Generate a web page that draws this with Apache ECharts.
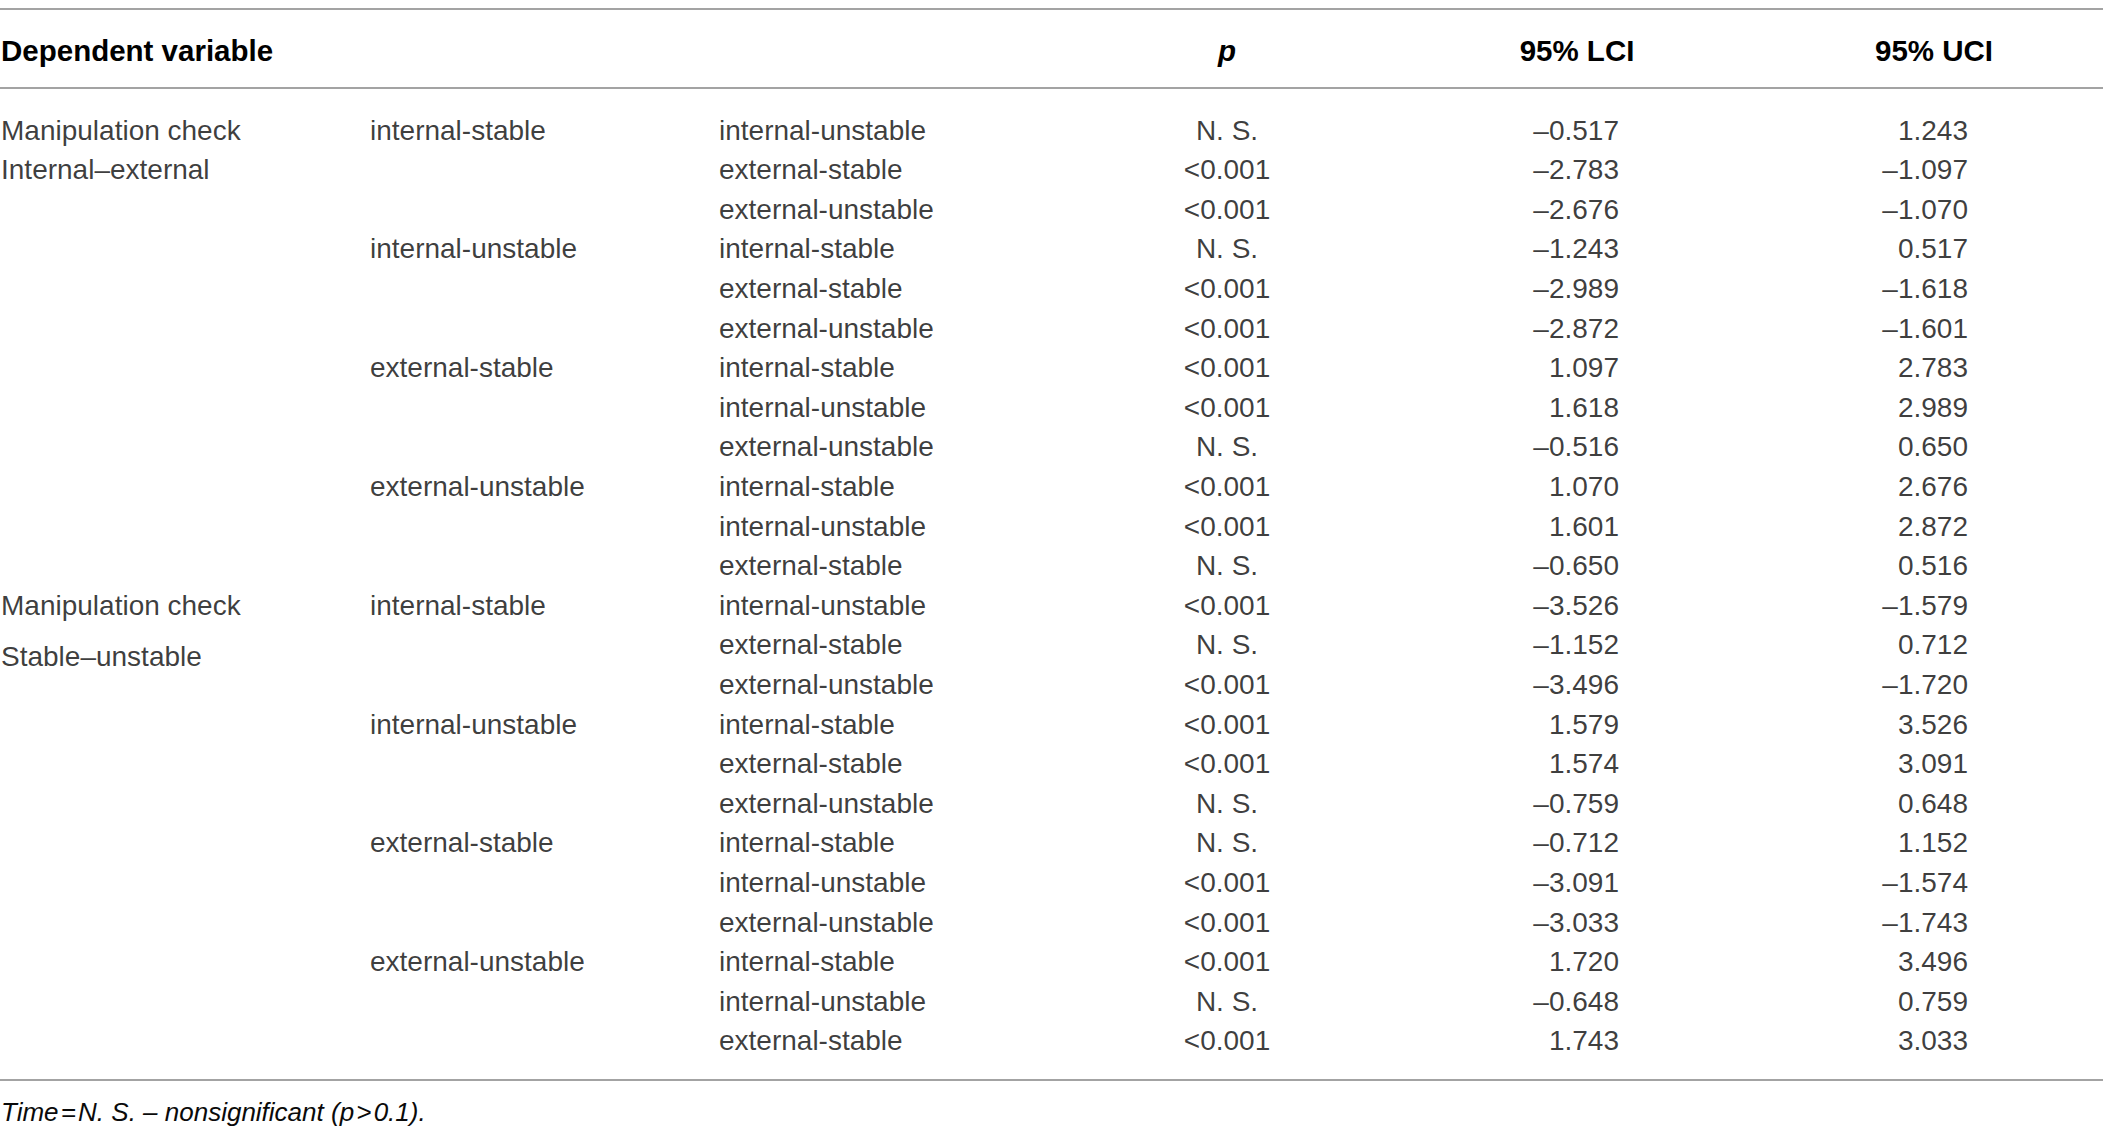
<!DOCTYPE html>
<html>
<head>
<meta charset="utf-8">
<title>Pairwise comparisons</title>
<script src="https://cdn.jsdelivr.net/npm/echarts@6/dist/echarts.min.js"></script>
<style>
html,body{margin:0;padding:0;background:#fff;}
#main{width:2103px;height:1136px;}
</style>
</head>
<body>
<div id="main"></div>
<script>
// table contents
var headers=['Dependent variable','p','95% LCI','95% UCI'];
var dependentVars=[['Manipulation check','Internal\u2013external'],['Manipulation check','Stable\u2013unstable']];
var groups=['internal-stable','internal-unstable','external-stable','external-unstable'];
var comparisons=[
	'internal-unstable','external-stable','external-unstable',
	'internal-stable','external-stable','external-unstable',
	'internal-stable','internal-unstable','external-unstable',
	'internal-stable','internal-unstable','external-stable',
	'internal-unstable','external-stable','external-unstable',
	'internal-stable','external-stable','external-unstable',
	'internal-stable','internal-unstable','external-unstable',
	'internal-stable','internal-unstable','external-stable'
];
var pValues=[
	'N. S.','<0.001','<0.001','N. S.','<0.001','<0.001',
	'<0.001','<0.001','N. S.','<0.001','<0.001','N. S.',
	'<0.001','N. S.','<0.001','<0.001','<0.001','N. S.',
	'N. S.','<0.001','<0.001','<0.001','N. S.','<0.001'
];
var lci=[
	-0.517,-2.783,-2.676,-1.243,-2.989,-2.872,
	1.097,1.618,-0.516,1.070,1.601,-0.650,
	-3.526,-1.152,-3.496,1.579,1.574,-0.759,
	-0.712,-3.091,-3.033,1.720,-0.648,1.743
];
var uci=[
	1.243,-1.097,-1.070,0.517,-1.618,-1.601,
	2.783,2.989,0.650,2.676,2.872,0.516,
	-1.579,0.712,-1.720,3.526,3.091,0.648,
	1.152,-1.574,-1.743,3.496,0.759,3.033
];
var footnote='Time\u200a=\u200aN. S. \u2013 nonsignificant (p\u200a>\u200a0.1).';

// layout
var W=2103;
var FONT='"Liberation Sans", Arial, sans-serif';
var colX=[1,370,719,1227,1619,1968];
var rowsPerDep=groups.length*3;

function fmt(v){
	return v.toFixed(3).replace('-','\u2013');
}

var rows=[];
for(var i=0;i<comparisons.length;i++){
	rows.push(String(i));
}

// one table column = one scatter series with only labels
function column(name,x,texts,pos){
	var data=[];
	for(var i=0;i<texts.length;i++){
		if(texts[i]==null) continue;
		var item={name:texts[i].text,value:[x,texts[i].row]};
		if(texts[i].offset) item.label={offset:texts[i].offset};
		data.push(item);
	}
	return {
		name:name,
		type:'scatter',
		symbolSize:0,
		itemStyle:{color:'transparent'},
		silent:true,
		data:data,
		label:{
			show:true,
			position:pos,
			distance:0,
			formatter:'{b}',
			color:'#0a0a0a',
			fontFamily:FONT,
			fontSize:28,
			fontWeight:'normal'
		}
	};
}

var depTexts=[];
for(var d=0;d<dependentVars.length;d++){
	depTexts.push({text:dependentVars[d][0],row:d*rowsPerDep});
	depTexts.push({text:dependentVars[d][1],row:d*rowsPerDep+1,offset:d>0?[0,12]:null});
}
var groupTexts=[];
for(var d=0;d<dependentVars.length;d++){
	for(var g=0;g<groups.length;g++){
		groupTexts.push({text:groups[g],row:d*rowsPerDep+g*3});
	}
}
var compTexts=[],pTexts=[],lTexts=[],uTexts=[];
for(var i=0;i<comparisons.length;i++){
	compTexts.push({text:comparisons[i],row:i});
	pTexts.push({text:pValues[i],row:i});
	lTexts.push({text:fmt(lci[i]),row:i});
	uTexts.push({text:fmt(uci[i]),row:i});
}

var myChart=echarts.init(document.getElementById('main'),null,{renderer:'svg'});
var option={
	animation:false,
	backgroundColor:'#fff',
	grid:{left:0,right:0,top:110.2,bottom:75.4},
	xAxis:{type:'value',min:0,max:W,show:false},
	yAxis:{type:'category',data:rows,inverse:true,show:false},
	series:[
		column('dep',colX[0],depTexts,'right'),
		column('group',colX[1],groupTexts,'right'),
		column('comparison',colX[2],compTexts,'right'),
		column('p',colX[3],pTexts,'inside'),
		column('lci',colX[4],lTexts,'left'),
		column('uci',colX[5],uTexts,'left')
	],
	graphic:[
		// rules
		{type:'line',shape:{x1:0,y1:9,x2:W,y2:9},style:{stroke:'#a3a3a3',lineWidth:2}},
		{type:'line',shape:{x1:0,y1:88,x2:W,y2:88},style:{stroke:'#a3a3a3',lineWidth:2}},
		{type:'line',shape:{x1:0,y1:1080,x2:W,y2:1080},style:{stroke:'#a3a3a3',lineWidth:2}},
		// header
		{type:'text',x:1,y:50,style:{text:headers[0],font:'bold 29.5px '+FONT,fill:'#000',textAlign:'left',textVerticalAlign:'middle'}},
		{type:'text',x:colX[3],y:50,style:{text:headers[1],font:'italic bold 29.5px '+FONT,fill:'#000',textAlign:'center',textVerticalAlign:'middle'}},
		{type:'text',x:1577,y:50,style:{text:headers[2],font:'bold 29.5px '+FONT,fill:'#000',textAlign:'center',textVerticalAlign:'middle'}},
		{type:'text',x:1934,y:50,style:{text:headers[3],font:'bold 29.5px '+FONT,fill:'#000',textAlign:'center',textVerticalAlign:'middle'}},
		// note
		{type:'text',x:1,y:1112,style:{text:footnote,font:'italic 26px '+FONT,fill:'#0a0a0a',textAlign:'left',textVerticalAlign:'middle'}}
	]
};
myChart.setOption(option);
</script>
</body>
</html>
